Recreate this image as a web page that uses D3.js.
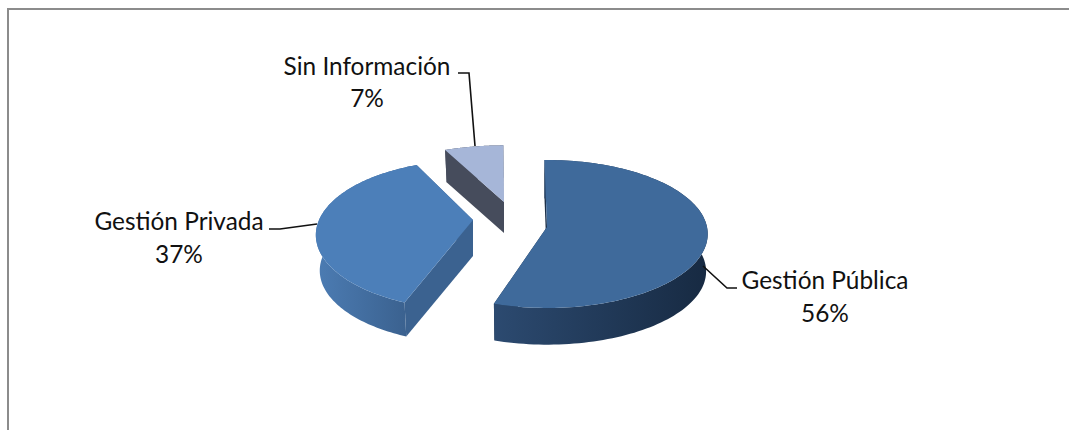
<!DOCTYPE html>
<html>
<head>
<meta charset="utf-8">
<script src="https://cdn.jsdelivr.net/npm/d3@7"></script>
<style>
  html, body { margin: 0; padding: 0; background: #fff; overflow: hidden; }
  text { font-family: Lato, "Open Sans", sans-serif; font-size: 24.4px; fill: #111; }
</style>
</head>
<body>
<div id="graf"></div>
<script>
const categorias = ['Gestión Pública', 'Gestión Privada', 'Sin Información']
const valores = [56, 37, 7]
const etiquetas = ['56%', '37%', '7%']

const anchoTotal = 1069
const altoTotal = 430

const svg = d3.select('#graf')
  .append('svg')
  .attr('width', anchoTotal)
  .attr('height', altoTotal)

// marco del grafico, solo se ven arriba y a la izquierda
svg.append('path')
  .attr('d', `M8,430V9H1069`)
  .attr('fill', 'none')
  .attr('stroke', '#8c8c8c')
  .attr('stroke-width', 2)

const rad = Math.PI / 180

// perspectiva: k deforma el circulo, cada porcion va separada del centro
const estilos = [
  { cx: 547, cy: 227, rx: 160, ry: 73.3, k: 0.0945, rot: -1, span: 0.985, prof: 37.5, esc: 0.99,
    top: '#3f6a9b', cara: '#1c3049', w0: '#2c4a70', w1: '#172a42',
    lbl: [825, 289], lineas: [[703, 266], [727, 288], [737, 288]] },
  { cx: 473, cy: 220, rx: 154, ry: 72, k: 0.2, rot: -0.4, span: 1, prof: 36, esc: 0.975,
    top: '#4c7fb9', cara: '#3b6290', w0: '#4c7cb3', w1: '#3b6290',
    lbl: [179, 230], lineas: [[317, 224], [280, 229], [269, 229]] },
  { cx: 504, cy: 202, rx: 156, ry: 62, k: 0.0945, rot: 1, span: 0.95, prof: 31, esc: 0.975,
    top: '#a6b6d8', cara: '#464c5c', w0: '#464c5c', w1: '#464c5c',
    lbl: [367, 74.5], lineas: [[475, 146], [469, 73], [458, 73]] }
]

const pie = d3.pie().sort(null).value((d) => d)
const arcos = pie(valores)

const linea = d3.line()

function punto(s, a, esc = 1, dy = 0) {
  const p = -Math.cos(a)
  const den = 1 - s.k * p
  return [
    s.cx + (esc * s.rx * Math.sin(a)) / den,
    s.cy + dy + (esc * s.ry * p) / den
  ]
}

function angulos(s, d) {
  const a0 = s.rot * rad + d.startAngle
  const a1 = a0 + (d.endAngle - d.startAngle) * s.span
  return d3.range(0, 121).map((i) => a0 + ((a1 - a0) * i) / 120)
}

const defs = svg.append('defs')

// se dibuja de atras hacia adelante: caras, pared curva y tapa
const orden = [2, 1, 0]
orden.forEach((i) => {
  const s = estilos[i]
  const as = angulos(s, arcos[i])
  const borde = as.map((a) => punto(s, a))
  const abajo = as.map((a) => punto(s, a, s.esc, s.prof))
  const centro = [s.cx, s.cy]
  const centroAbajo = [s.cx, s.cy + s.prof]
  const xs = d3.extent(borde, (d) => d[0])

  const grad = defs.append('linearGradient')
    .attr('id', 'pared' + i)
    .attr('gradientUnits', 'userSpaceOnUse')
    .attr('x1', xs[0]).attr('x2', i === 1 ? borde[0][0] : xs[1])
    .attr('y1', 0).attr('y2', 0)
  grad.append('stop').attr('offset', 0).attr('stop-color', s.w0)
  grad.append('stop').attr('offset', 1).attr('stop-color', s.w1)

  const g = svg.append('g')

  // caras radiales
  const fin = borde.length - 1
  const caras = [
    [centro, borde[0], abajo[0], centroAbajo],
    [centro, borde[fin], abajo[fin], centroAbajo]
  ]
  caras.forEach((c) => {
    g.append('path')
      .attr('d', linea(c) + 'Z')
      .attr('fill', s.cara)
  })

  g.append('path')
    .attr('d', linea(borde.concat(abajo.slice().reverse())) + 'Z')
    .attr('fill', `url(#pared${i})`)

  g.append('path')
    .attr('d', linea([centro].concat(borde)) + 'Z')
    .attr('fill', s.top)
})

// lineas guia y etiquetas
categorias.forEach((c, i) => {
  const s = estilos[i]
  svg.append('path')
    .attr('d', linea(s.lineas))
    .attr('fill', 'none')
    .attr('stroke', '#111')
    .attr('stroke-width', 1.6)

  svg.append('text')
    .attr('x', s.lbl[0])
    .attr('y', s.lbl[1])
    .attr('text-anchor', 'middle')
    .text(c)

  svg.append('text')
    .attr('x', s.lbl[0])
    .attr('y', s.lbl[1] + 32.5)
    .attr('text-anchor', 'middle')
    .text(etiquetas[i])
})
</script>
</body>
</html>
